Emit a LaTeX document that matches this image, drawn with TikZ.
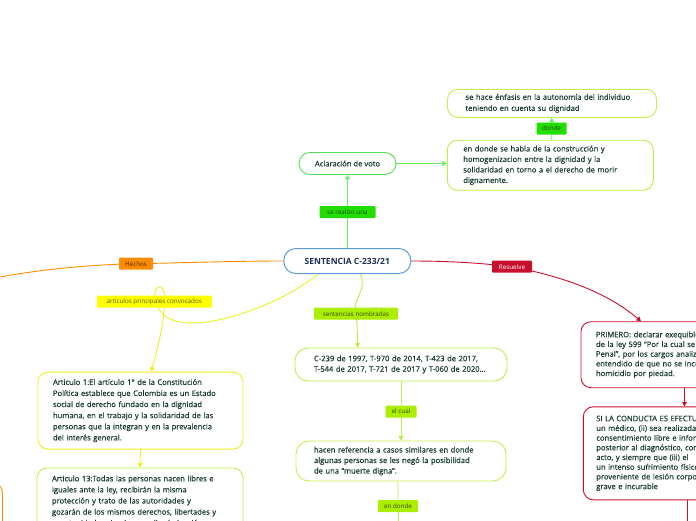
\documentclass[tikz,border=0pt]{standalone}
\usepackage{fontspec}
\setmainfont{Open Sans}
\newfontfamily\boxfont{Open Sans}[FakeBold=0.35]
\usetikzlibrary{arrows.meta,calc}
\pgfdeclarelayer{bg}
\pgfsetlayers{bg,main}
\definecolor{txt}{HTML}{173A2C}
\definecolor{navy}{HTML}{1C2E5A}
\definecolor{cblue}{HTML}{5B9BD5}
\definecolor{cgreen}{HTML}{55DD55}
\definecolor{cgreenl}{HTML}{66EE66}
\definecolor{cgreenlab}{HTML}{22DD00}
\definecolor{cgreentxt}{HTML}{1A4A10}
\definecolor{clime}{HTML}{AAEE00}
\definecolor{climetxt}{HTML}{3A4A00}
\definecolor{climeb}{HTML}{BBEE44}
\definecolor{climec}{HTML}{C4EE50}
\definecolor{cyel}{HTML}{EEEE22}
\definecolor{cyellab}{HTML}{FFFF00}
\definecolor{cyeltxt}{HTML}{5A5A00}
\definecolor{corange}{HTML}{FF8C00}
\definecolor{corangetxt}{HTML}{4D2600}
\definecolor{cred}{HTML}{C8102E}
\begin{document}
\begin{tikzpicture}[x=1pt,y=-1pt,
  box/.style={draw, line width=0.9pt, rounded corners=10pt, fill=white, align=left, text=txt, inner sep=0pt},
  ftl/.style={font=\boxfont\fontsize{7.6}{11.1}\selectfont},
  ftm/.style={font=\boxfont\fontsize{7.6}{10.5}\selectfont},
  ftr/.style={font=\boxfont\fontsize{7.6}{9.7}\selectfont},
  lbl/.style={rounded corners=1pt, inner sep=0pt, minimum height=12pt, font=\fontsize{6.3}{7}\selectfont},
  conn/.style={line width=0.9pt},
  tip/.style={-{Triangle[length=4.5pt,width=5pt]}}
]
\path[use as bounding box] (0,0) rectangle (696,520);
\clip (0,0) rectangle (696,520);

% central
\node[draw=cblue, line width=1pt, rounded corners=12pt, fill=white, minimum width=127pt, minimum height=25pt, inner sep=0pt, font=\fontsize{8.5}{10}\selectfont\bfseries, text=navy] (central) at (347.3,261) {SENTENCIA C-233/21};

% top branch
\node[draw=cgreen, line width=0.9pt, rounded corners=11pt, fill=white, minimum width=97pt, minimum height=22pt, inner sep=0pt, ftl, text=txt] (acl) at (347.5,163.5) {Aclaración de voto};
\node[lbl, fill=cgreenlab, text=cgreentxt, minimum width=56pt] (lvoto) at (347.5,212) {se realizo una};
\node[box, ftm, draw=climeb, minimum width=206pt, minimum height=50pt, text width=174pt] (habla) at (550.3,165.2) {en donde se habla de la construcción y\\homogenizacion entre la dignidad y la\\solidaridad en torno a el derecho de morir\\dignamente.};
\node[box, ftl, draw=climec, minimum width=209pt, minimum height=28pt, text width=173pt] (enfasis) at (552,103.3) {se hace énfasis en la autonomía del individuo\\teniendo en cuenta su dignidad};
\node[lbl, fill=cgreenlab, text=cgreentxt, minimum width=30pt] (ldonde) at (551.5,128.5) {donde};

% left branch
\node[lbl, fill=corange, text=corangetxt, minimum width=34pt] (lhechos) at (136,263.7) {Hechos};
\coordinate (offl) at (-20,281);
\node[box, draw=corange, minimum width=100pt, minimum height=80pt] (hbox) at (-47.5,523) {};
\node[lbl, fill=cyellab, text=cyeltxt, minimum width=115pt] (lart) at (154.3,301.7) {artículos principales convocados};
\node[box, ftl, draw=cyel, minimum width=205pt, minimum height=77pt, text width=175pt] (art1) at (140.5,410.6) {Articulo 1:El artículo 1° de la Constitución\\Política establece que Colombia es un Estado\\social de derecho fundado en la dignidad\\humana, en el trabajo y la solidaridad de las\\personas que la integran y en la prevalencia\\del interés general.};
\node[box, ftl, draw=climeb, minimum width=206pt, minimum height=67pt, text width=176pt] (art13) at (140,501.5) {Articulo 13:Todas las personas nacen libres e\\iguales ante la ley, recibirán la misma\\protección y trato de las autoridades y\\gozarán de los mismos derechos, libertades y\\oportunidades sin ninguna discriminación};

% middle branch
\node[lbl, fill=clime, text=climetxt, minimum width=84pt] (lsent) at (356,313.7) {sentencias nombradas};
\node[box, ftm, draw=climeb, rounded corners=13pt, minimum width=212pt, minimum height=33pt, text width=174pt] (c239) at (401,364.5) {C-239 de 1997, T-970 de 2014, T-423 de 2017,\\T-544 de 2017, T-721 de 2017 y T-060 de 2020...};
\node[lbl, fill=clime, text=climetxt, minimum width=31pt] (lcual) at (401,411.5) {el cual};
\node[box, ftm, draw=climec, rounded corners=13pt, minimum width=210pt, minimum height=40pt, text width=174pt] (hacen) at (401,461) {hacen referencia a casos similares en donde\\algunas personas se les negó la posibilidad\\de una “muerte digna”.};
\node[lbl, fill=clime, text=climetxt, minimum width=40pt] (lendonde) at (398,506) {en donde};
\coordinate (offm) at (399,530);

% right branch
\node[lbl, fill=cred, text=white, minimum width=40pt] (lres) at (512,266.7) {Resuelve};
\node[box, ftr, draw=cred, minimum width=160pt, minimum height=66pt, text width=130pt] (prim) at (661,354.7) {PRIMERO: declarar exequible\\de la ley 599 “Por la cual se\\Penal”, por los cargos analizados\\entendido de que no se incurre\\homicidio por piedad.};
\node[box, ftr, draw=cred, minimum width=160pt, minimum height=93pt, text width=134pt] (si) at (663.3,453.3) {SI LA CONDUCTA ES EFECTUADA\\un médico, (ii) sea realizada\\consentimiento libre e informado\\posterior al diagnóstico, con\\acto, y siempre que (iii) el\\un intenso sufrimiento físico\\proveniente de lesión corporal\\grave e incurable};
\coordinate (pa) at (684.5,0);
\coordinate (pb) at (687,530);

\begin{pgfonlayer}{bg}
\draw[conn, cgreenl, tip] (central) -- (lvoto) -- (acl);
\draw[conn, cgreenl, tip] (acl.east) -- (acl.east -| habla.west);
\draw[conn, cgreenl, tip] (habla) -- (ldonde) -- (enfasis);
\draw[conn, corange] (central.west) .. controls (230,261) and (180,263) .. (lhechos.center) .. controls (90,264.5) and (30,270) .. (offl);
\draw[conn, cyel, tip] ($(central.south)+(-29,0)$) .. controls (280,305) and (200,335) .. (168,318) .. controls (152,308) and (152,287) .. (160,287) .. controls (168,287) and (166,320) .. ($(art1.north)+(10.5,0)$);
\draw[conn, cyel, tip] (art1.south) -- (art13.north);
\draw[conn, climeb, tip] ($(central.south)+(13,0)$) .. controls (368,290) and (352,298) .. (lsent.center) .. controls (358,330) and (357,340) .. ($(c239.north)+(-43,0)$);
\draw[conn, climeb, tip] (c239) -- (lcual) -- (hacen);
\draw[conn, climeb] (hacen.south -| lendonde) -- (lendonde) -- (offm);
\draw[conn, cred, tip] (central.east) .. controls (450,261) and (480,263) .. (lres.center) .. controls (570,278) and (610,295) .. ($(prim.north)+(-20,0)$);
\draw[conn, cred, tip] (prim.south -| pa) -- (si.north -| pa);
\draw[conn, cred] (si.south -| pb) -- (pb);
\end{pgfonlayer}
\end{tikzpicture}
\end{document}
